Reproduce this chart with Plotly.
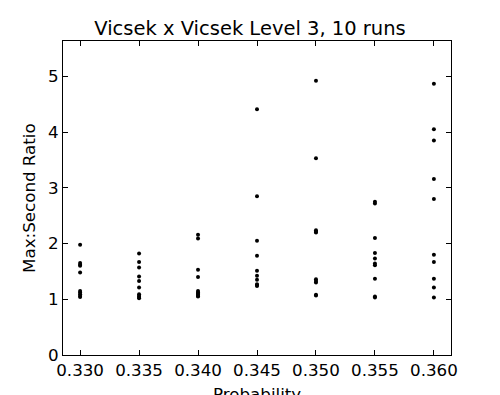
import plotly.graph_objects as go

probabilities = [0.330, 0.335, 0.340, 0.345, 0.350, 0.355, 0.360]
ratios = {
    0.330: [1.98, 1.65, 1.62, 1.60, 1.48, 1.15, 1.12, 1.09, 1.06, 1.04],
    0.335: [1.82, 1.67, 1.57, 1.41, 1.33, 1.21, 1.09, 1.06, 1.04, 1.02],
    0.340: [2.16, 2.09, 1.53, 1.40, 1.15, 1.12, 1.10, 1.08, 1.06, 1.05],
    0.345: [4.41, 2.85, 2.05, 1.78, 1.51, 1.42, 1.35, 1.27, 1.255, 1.24],
    0.350: [4.92, 3.53, 2.24, 2.21, 2.20, 1.36, 1.33, 1.30, 1.08, 1.07],
    0.355: [2.75, 2.72, 2.10, 1.83, 1.73, 1.64, 1.61, 1.37, 1.05, 1.03],
    0.360: [4.87, 4.05, 3.85, 3.16, 2.80, 1.80, 1.67, 1.37, 1.21, 1.03],
}
x_ticks = [0.330, 0.335, 0.340, 0.345, 0.350, 0.355, 0.360]
x_tick_labels = ["0.330", "0.335", "0.340", "0.345", "0.350", "0.355", "0.360"]
y_ticks = [0, 1, 2, 3, 4, 5]

xs, ys = [], []
for p in probabilities:
    for r in ratios[p]:
        xs.append(p)
        ys.append(r)

fig = go.Figure(go.Scatter(
    x=xs, y=ys, mode="markers",
    marker=dict(color="black", size=4),
    showlegend=False,
))

W, H = 500, 395
font = dict(family="DejaVu Sans", size=16.7, color="black")
fig.update_layout(
    width=W, height=H,
    margin=dict(l=63, r=49, t=40.5, b=39.5, autoexpand=False),
    paper_bgcolor="white", plot_bgcolor="white",
    font=font,
    title=dict(text="Vicsek x Vicsek Level 3, 10 runs", x=0.5, xanchor="center",
               y=1 - 28 / H, yanchor="middle", font=dict(family="DejaVu Sans", size=19.5, color="black")),
    annotations=[
        dict(text="Probability", xref="paper", yref="paper", x=0.5, y=-(383 - 355.5) / 315,
             xanchor="center", yanchor="top", showarrow=False, font=font),
        dict(text="Max:Second Ratio", xref="paper", yref="paper", x=-(63 - 17) / 387.7,
             y=(355.5 - 198) / 315, xanchor="left", yanchor="middle", textangle=-90,
             showarrow=False, font=font),
    ],
)
fig.update_xaxes(
    range=[0.32855, 0.36145], tickvals=x_ticks, ticktext=x_tick_labels,
    showgrid=False, zeroline=False, showline=True, linecolor="black", linewidth=1,
    mirror="allticks", ticks="inside", ticklen=5, tickcolor="black",
    tickfont=font, automargin=False,
)
fig.update_yaxes(
    range=[0, 5.635], tickvals=y_ticks,
    showgrid=False, zeroline=False, showline=True, linecolor="black", linewidth=1,
    mirror="allticks", ticks="inside", ticklen=5, tickcolor="black",
    tickfont=font, automargin=False,
)

fig.write_html("out.html", config={"displayModeBar": False},
               post_script="document.body.style.margin='0';document.body.style.overflow='hidden';")
